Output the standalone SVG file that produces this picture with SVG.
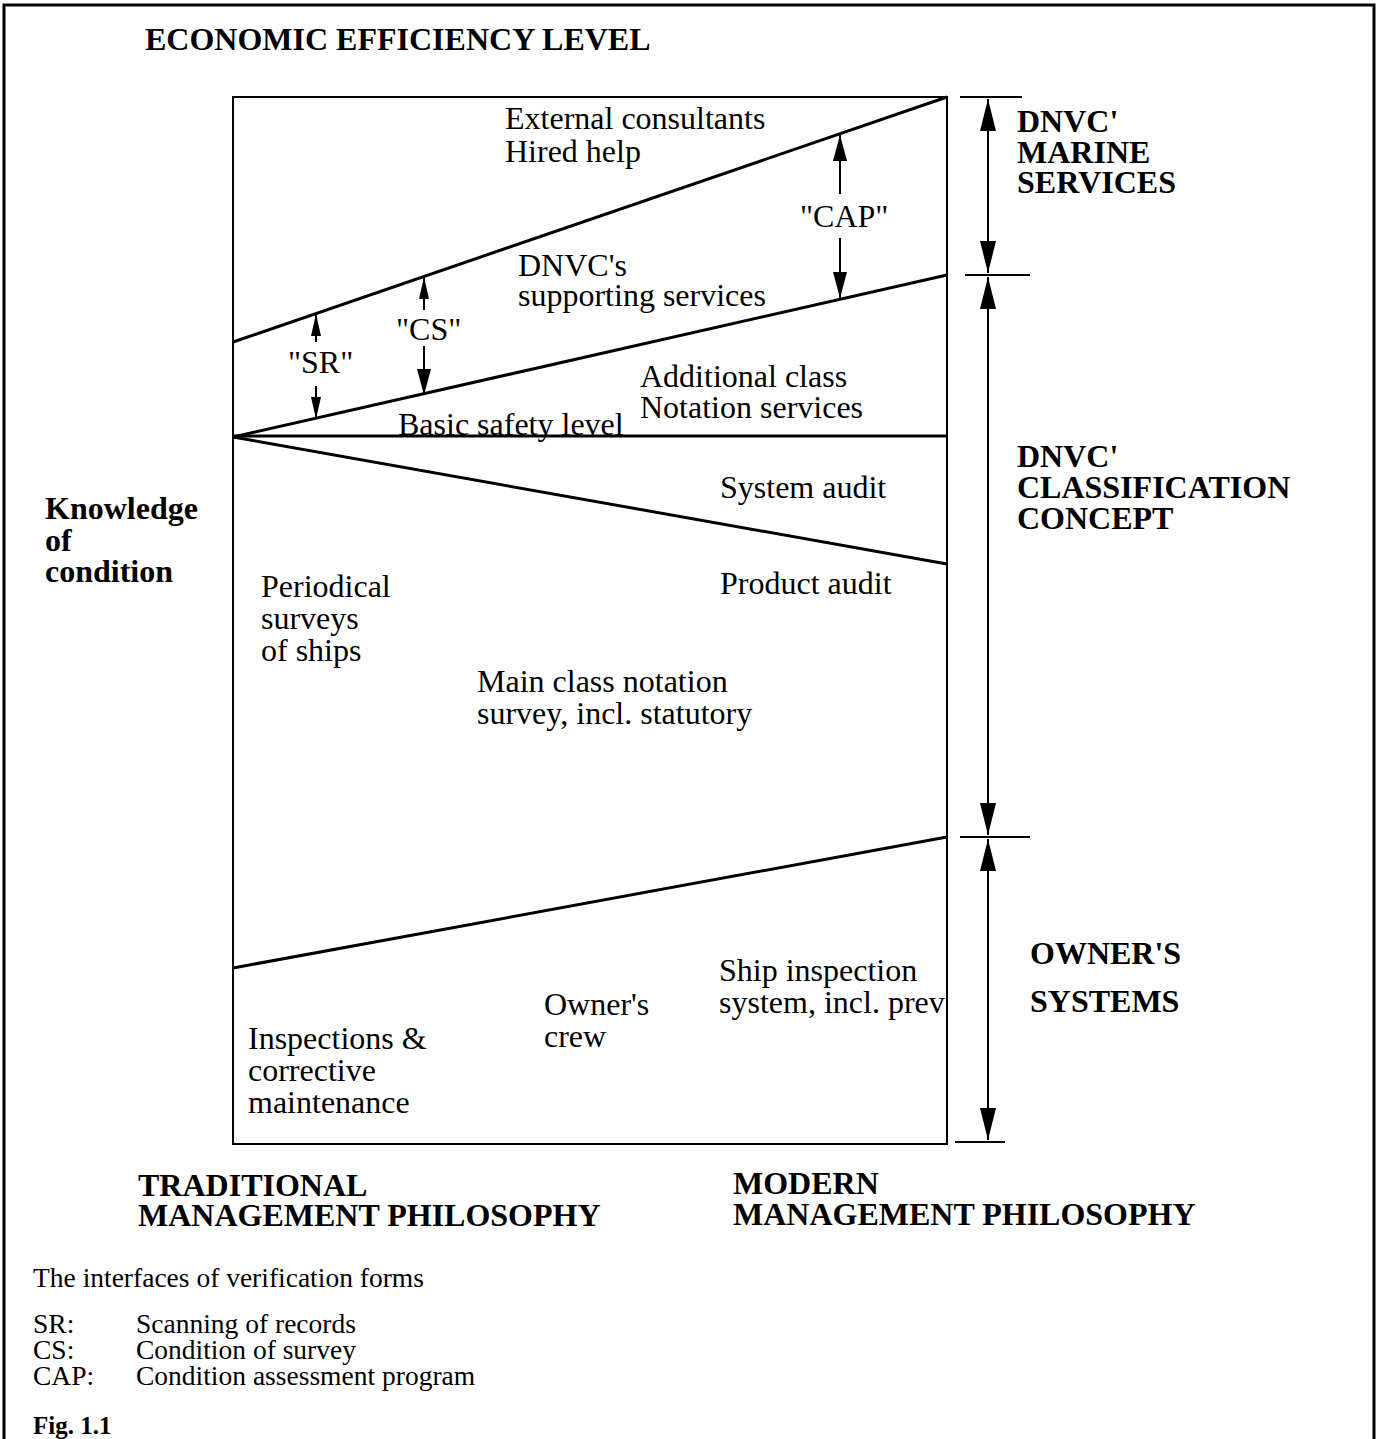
<svg xmlns="http://www.w3.org/2000/svg" width="1379" height="1439" viewBox="0 0 1379 1439">
<style>
.t{font-family:"Liberation Serif","Times New Roman",serif;font-size:32px;fill:#000}
.b{font-family:"Liberation Serif","Times New Roman",serif;font-size:32px;font-weight:bold;fill:#000}
.l{font-family:"Liberation Serif","Times New Roman",serif;font-size:27.5px;fill:#000}
.ln{stroke:#000;stroke-width:3;fill:none}
.th{stroke:#000;stroke-width:2;fill:none}
</style>
<defs>
<marker id="ah" markerUnits="userSpaceOnUse" markerWidth="36" markerHeight="20" viewBox="0 0 36 20" refX="34" refY="10" orient="auto">
<path d="M2,2 L34,10 L2,18 Z" fill="#000"/>
</marker>
<marker id="md" markerUnits="userSpaceOnUse" markerWidth="28" markerHeight="18" viewBox="0 0 28 18" refX="27" refY="9" orient="auto">
<path d="M1,2 L27,9 L1,16 Z" fill="#000"/>
</marker>
<marker id="sm" markerUnits="userSpaceOnUse" markerWidth="24" markerHeight="14" viewBox="0 0 24 14" refX="23" refY="7" orient="auto">
<path d="M1,2 L23,7 L1,12 Z" fill="#000"/>
</marker>
</defs>
<g id="frame"><path class="ln" d="M4,1439 L4,5 L1374,5 L1374,1439"/></g>
<g id="title"><text class="b" x="145" y="50">ECONOMIC EFFICIENCY LEVEL</text></g>
<g id="box"><rect class="th" x="233" y="97" width="714" height="1047"/></g>
<g id="connectors">
<line class="ln" x1="233" y1="342" x2="947" y2="97"/>
<line class="ln" x1="233" y1="437" x2="947" y2="275"/>
<line class="ln" x1="233" y1="436" x2="947" y2="436"/>
<line class="ln" x1="233" y1="437" x2="947" y2="564"/>
<line class="ln" x1="233" y1="968" x2="947" y2="837"/>
<line class="th" x1="960" y1="97" x2="1022" y2="97"/>
<line class="th" x1="965" y1="275" x2="1030" y2="275"/>
<line class="th" x1="960" y1="837" x2="1030" y2="837"/>
<line class="th" x1="955" y1="1142" x2="1005" y2="1142"/>
<line class="th" x1="988" y1="190" x2="988" y2="99" marker-end="url(#ah)"/>
<line class="th" x1="988" y1="190" x2="988" y2="273" marker-end="url(#ah)"/>
<line class="th" x1="988" y1="550" x2="988" y2="277" marker-end="url(#ah)"/>
<line class="th" x1="988" y1="550" x2="988" y2="835" marker-end="url(#ah)"/>
<line class="th" x1="988" y1="990" x2="988" y2="839" marker-end="url(#ah)"/>
<line class="th" x1="988" y1="990" x2="988" y2="1140" marker-end="url(#ah)"/>
<line class="th" x1="840" y1="194" x2="840" y2="135" marker-end="url(#md)"/>
<line class="th" x1="840" y1="238" x2="840" y2="298" marker-end="url(#md)"/>
<line class="th" x1="424" y1="310" x2="424" y2="277" marker-end="url(#sm)"/>
<line class="th" x1="424" y1="346" x2="424" y2="395" marker-end="url(#md)"/>
<line class="th" x1="316" y1="342" x2="316" y2="314" marker-end="url(#sm)"/>
<line class="th" x1="316" y1="386" x2="316" y2="419" marker-end="url(#sm)"/>
</g>
<g id="n-external"><text class="t" x="505" y="129">External consultants</text><text class="t" x="505" y="162">Hired help</text></g>
<g id="n-cap"><text class="t" x="800" y="227">"CAP"</text></g>
<g id="n-dnvcs"><text class="t" x="518" y="276">DNVC's</text><text class="t" x="518" y="306">supporting services</text></g>
<g id="n-cs"><text class="t" x="396" y="340">"CS"</text></g>
<g id="n-sr"><text class="t" x="288" y="373">"SR"</text></g>
<g id="n-additional"><text class="t" x="640" y="387">Additional class</text><text class="t" x="640" y="418">Notation services</text></g>
<g id="n-basic"><text class="t" x="398" y="435">Basic safety level</text></g>
<g id="n-system"><text class="t" x="720" y="498">System audit</text></g>
<g id="n-product"><text class="t" x="720" y="594">Product audit</text></g>
<g id="n-periodical"><text class="t" x="261" y="597">Periodical</text><text class="t" x="261" y="629">surveys</text><text class="t" x="261" y="661">of ships</text></g>
<g id="n-main"><text class="t" x="477" y="692">Main class notation</text><text class="t" x="477" y="724">survey, incl. statutory</text></g>
<g id="n-ship"><text class="t" x="719" y="981">Ship inspection</text><text class="t" x="719" y="1013">system, incl. prev</text></g>
<g id="n-crew"><text class="t" x="544" y="1015">Owner's</text><text class="t" x="544" y="1047">crew</text></g>
<g id="n-inspections"><text class="t" x="248" y="1049">Inspections &amp;</text><text class="t" x="248" y="1081">corrective</text><text class="t" x="248" y="1113">maintenance</text></g>
<g id="n-knowledge"><text class="b" x="45" y="519">Knowledge</text><text class="b" x="45" y="551">of</text><text class="b" x="45" y="582">condition</text></g>
<g id="n-marine"><text class="b" x="1017" y="132">DNVC'</text><text class="b" x="1017" y="163">MARINE</text><text class="b" x="1017" y="193">SERVICES</text></g>
<g id="n-class"><text class="b" x="1017" y="467">DNVC'</text><text class="b" x="1017" y="498">CLASSIFICATION</text><text class="b" x="1017" y="529">CONCEPT</text></g>
<g id="n-owner"><text class="b" x="1030" y="964">OWNER'S</text><text class="b" x="1030" y="1012">SYSTEMS</text></g>
<g id="n-trad"><text class="b" x="138" y="1196">TRADITIONAL</text><text class="b" x="138" y="1226">MANAGEMENT PHILOSOPHY</text></g>
<g id="n-modern"><text class="b" x="733" y="1194">MODERN</text><text class="b" x="733" y="1225">MANAGEMENT PHILOSOPHY</text></g>
<g id="legend">
<text class="l" x="33" y="1287">The interfaces of verification forms</text>
<text class="l" x="33" y="1333">SR:</text><text class="l" x="136" y="1333">Scanning of records</text>
<text class="l" x="33" y="1359">CS:</text><text class="l" x="136" y="1359">Condition of survey</text>
<text class="l" x="33" y="1385">CAP:</text><text class="l" x="136" y="1385">Condition assessment program</text>
<text class="l" x="33" y="1434" style="font-weight:bold;font-size:25px">Fig. 1.1</text>
</g>
</svg>
